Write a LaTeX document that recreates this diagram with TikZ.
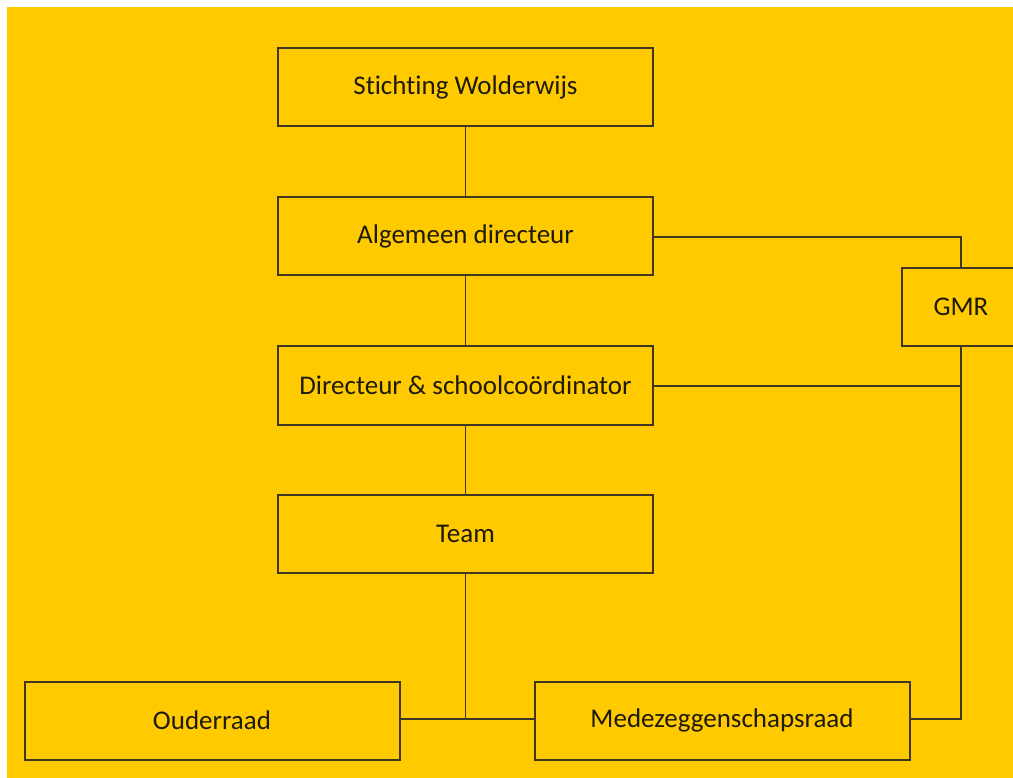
\documentclass[tikz,border=0pt]{standalone}
\usepackage{fontspec}
\setmainfont{Carlito}[Ligatures=NoCommon]
\definecolor{bgyellow}{HTML}{FFCB00}
\definecolor{boxline}{HTML}{3F3722}
\definecolor{txt}{HTML}{1E1A0C}
\begin{document}
\begin{tikzpicture}[x=1pt,y=-1pt,
  box/.style={draw=boxline,line width=2pt,fill=bgyellow,inner sep=0pt,
    minimum width=375pt,minimum height=78pt,font=\fontsize{27}{30}\selectfont,text=txt},
  conn/.style={draw=boxline,line width=1.4pt}]
\useasboundingbox (0,0) rectangle (1013,778);
\clip (0,0) rectangle (1013,778);
\fill[bgyellow] (0,0) rectangle (1013,778);
\fill[white] (0,0) rectangle (1013,7);
\fill[white] (0,0) rectangle (7,778);
\node[box] (sw) at (465.5,87.5) {Stichting Wolderwijs};
\node[box] (ad) at (465.5,236) {Algemeen directeur};
\node[box] (ds) at (465.5,385.5) {Directeur \& schoolcoördinator};
\node[box] (tm) at (465.5,534) {Team};
\node[box] (or) at (212,720.5) {Ouderraad};
\node[box] (mr) at (722,720.5) {Medezeggenschapsraad};
\node[box,minimum width=118pt] (gmr) at (961,307) {GMR};
\coordinate (c1) at (961,237);
\coordinate (c2) at (961,386);
\coordinate (c3) at (961,719);
\coordinate (c4) at (465.5,719);
\draw[conn] (sw) -- (ad);
\draw[conn] (ad) -- (ds);
\draw[conn] (ds) -- (tm);
\draw[conn] (tm) -- (c4);
\draw[conn] (or.east |- c4) -- (mr.west |- c4);
\draw[conn] (ad.east |- c1) -- (c1) -- (gmr.north);
\draw[conn] (gmr.south) -- (c3) -- (mr.east |- c3);
\draw[conn] (ds.east |- c2) -- (c2);
\end{tikzpicture}
\end{document}
